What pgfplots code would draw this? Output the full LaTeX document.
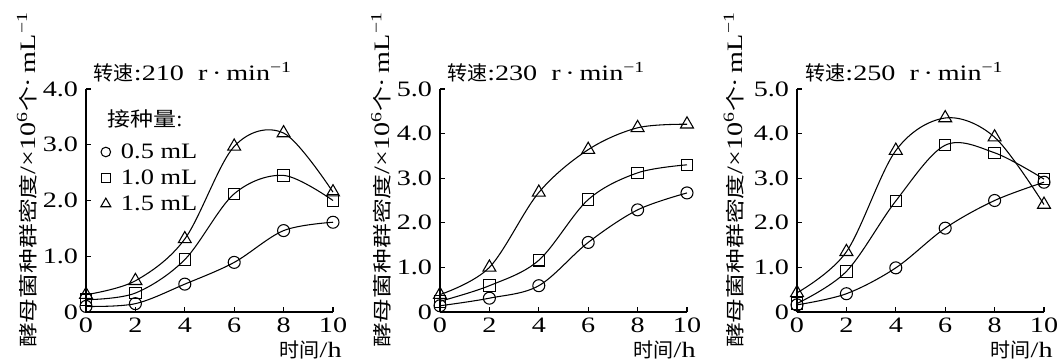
\documentclass[border=0pt]{standalone}
\usepackage{graphicx}
\usepackage{pgfplots}
\pgfplotsset{compat=1.18}
\usepackage{fontspec}
\setmainfont{Liberation Serif}
\newfontfamily\cjkn{Noto Sans CJK SC}
\newfontfamily\cjkw{Noto Sans CJK SC}[FakeStretch=1.3]
\newfontfamily\cjkm{Noto Sans CJK SC}[FakeStretch=1.15]
\newcommand{\lat}{\rmfamily\fontsize{16.5}{19}\selectfont}
\newcommand{\cjt}{\cjkn\fontsize{15}{19}\selectfont}
\newcommand{\cjy}{\cjkw\fontsize{14.3}{19}\selectfont}
\newcommand{\cjl}{\cjkm\fontsize{15}{19}\selectfont}
\newcommand{\sx}[1]{\scalebox{1.28}[1]{#1}}
\newcommand{\sxl}[1]{\scalebox{1.2}[1]{#1}}
\pgfplotsset{
  panel/.style={
    scale only axis, width=185.25pt, height=167.25pt,
    xmin=0, xmax=10, ymin=0,
    axis lines=left, axis line style={-, line width=0.8pt},
    tick align=inside, major tick length=4pt,
    tick style={black, line width=0.8pt},
    xtick={0,2,4,6,8,10},
    xticklabels={\sx{0},\sx{2},\sx{4},\sx{6},\sx{8},\sx{10}},
    clip=false,
    /pgf/number format/assume math mode=true,
    tick label style={font=\lat},
    xticklabel style={yshift=-1pt},
    yticklabel style={xshift=-2.5pt},
    every axis plot/.append style={black, line width=0.8pt, smooth, tension=0.55},
    anchor=south west,
  },
  mc/.style={mark=o, mark size=4.5pt, mark options={fill=white, solid}},
  ms/.style={mark=square, mark size=4.3pt, mark options={fill=white, solid}},
  mt/.style={mark=triangle, mark size=5.6pt, mark options={fill=white, solid}},
}
\newcommand{\ylab}{\cjy 酵母菌种群密度\sx{\lat/×10\textsuperscript{6}}\cjy 个\sx{\lat·\,mL\textsuperscript{−1}}}
\newcommand{\xlab}{\cjt 时间\sx{\lat/h}}
\begin{document}
\begin{tikzpicture}
\useasboundingbox (0,0) rectangle (792.75pt,271.5pt);
% ---------- panel 1 ----------
\begin{axis}[panel, at={(64.5pt,37.5pt)}, ymax=4,
  ytick={0,1,2,3,4}, yticklabels={\sx{0},\sx{1.0},\sx{2.0},\sx{3.0},\sx{4.0}},
  legend style={draw=none, fill=none, at={(axis description cs:0.054,0.762)}, anchor=north west,
    font=\lat, row sep=5pt, inner sep=0pt, legend cell align=left,
    nodes={inner sep=1pt}},
  legend image code/.code={\draw[#1] plot coordinates {(0.15cm,0cm)}; \path (0cm,0cm) (0.5cm,0cm);},
  ]
\addplot[mc, forget plot] coordinates {(0,0.10) (2,0.15) (4,0.50) (6,0.89) (8,1.46) (10,1.61)};
\addplot[ms, forget plot] coordinates {(0,0.22) (2,0.34) (4,0.94) (6,2.12) (8,2.45) (10,2.00)};
\addplot[mt, forget plot] coordinates {(0,0.31) (2,0.56) (4,1.31) (6,2.97) (8,3.21) (10,2.15)};
\addlegendimage{only marks, mark=o, mark size=3.6pt, line width=0.8pt}
\addlegendentry{\sxl{0.5 mL}}
\addlegendimage{only marks, mark=square, mark size=3.4pt, line width=0.8pt}
\addlegendentry{\sxl{1.0 mL}}
\addlegendimage{only marks, mark=triangle, mark size=4.3pt, line width=0.8pt}
\addlegendentry{\sxl{1.5 mL}}
\node[anchor=west, inner sep=0pt] at (axis description cs:0.085,0.867) {\cjl 接种量\lat:};
\node at (axis description cs:0.433,1.076) {\cjt 转速\sx{\lat:210\ \ r\,·\,min\textsuperscript{−1}}};
\node[rotate=90] at (axis description cs:-0.239,0.592) {\ylab};
\node[anchor=east, inner sep=0pt] at (axis description cs:1.036,-0.17) {\xlab};
\end{axis}
% ---------- panel 2 ----------
\begin{axis}[panel, at={(330pt,37.5pt)}, ymax=5,
  ytick={0,1,2,3,4,5}, yticklabels={\sx{0},\sx{1.0},\sx{2.0},\sx{3.0},\sx{4.0},\sx{5.0}}]
\addplot[mc] coordinates {(0,0.14) (2,0.31) (4,0.59) (6,1.56) (8,2.29) (10,2.67)};
\addplot[ms] coordinates {(0,0.24) (2,0.59) (4,1.16) (6,2.52) (8,3.12) (10,3.30)};
\addplot[mt] coordinates {(0,0.39) (2,1.00) (4,2.68) (6,3.64) (8,4.13) (10,4.21)};
\node at (axis description cs:0.43,1.076) {\cjt 转速\sx{\lat:230\ \ r\,·\,min\textsuperscript{−1}}};
\node[rotate=90] at (axis description cs:-0.238,0.592) {\ylab};
\node[anchor=east, inner sep=0pt] at (axis description cs:1.036,-0.17) {\xlab};
\end{axis}
% ---------- panel 3 ----------
\begin{axis}[panel, at={(597.75pt,37.5pt)}, ymax=5,
  ytick={0,1,2,3,4,5}, yticklabels={\sx{0},\sx{1.0},\sx{2.0},\sx{3.0},\sx{4.0},\sx{5.0}}]
\addplot[mc] coordinates {(0,0.16) (2,0.41) (4,0.99) (6,1.88) (8,2.50) (10,2.91)};
\addplot[ms] coordinates {(0,0.19) (2,0.91) (4,2.49) (6,3.74) (8,3.57) (10,2.98)};
\addplot[mt] coordinates {(0,0.43) (2,1.35) (4,3.62) (6,4.35) (8,3.92) (10,2.41)};
\node at (axis description cs:0.435,1.076) {\cjt 转速\sx{\lat:250\ \ r\,·\,min\textsuperscript{−1}}};
\node[rotate=90] at (axis description cs:-0.256,0.592) {\ylab};
\node[anchor=east, inner sep=0pt] at (axis description cs:1.036,-0.17) {\xlab};
\end{axis}
\end{tikzpicture}
\end{document}
